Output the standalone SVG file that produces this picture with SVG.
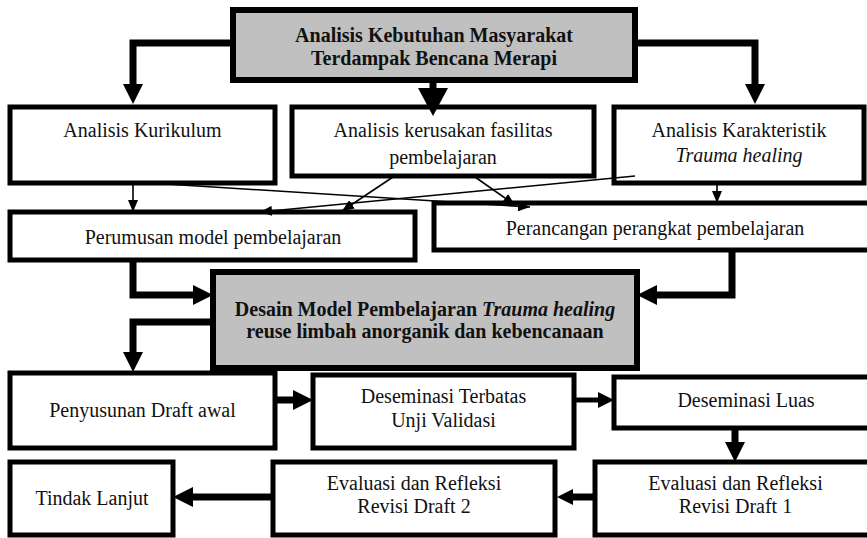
<svg xmlns="http://www.w3.org/2000/svg" width="867" height="538" viewBox="0 0 867 538">
<style>
.box{fill:#fff;stroke:#000;stroke-width:5}
.gray{fill:#c0c0c0;stroke:#000;stroke-width:6}
.t{font-family:"Liberation Serif","Times New Roman",serif;font-size:20px;fill:#111;text-anchor:middle}
.b{font-weight:bold}
.i{font-style:italic}
.thick{fill:none;stroke:#000;stroke-width:7}
.med{fill:none;stroke:#000;stroke-width:5}
.thin{fill:none;stroke:#000;stroke-width:1.6}
</style>
<defs>
<marker id="ah" markerUnits="userSpaceOnUse" viewBox="0 0 20 20" markerWidth="20" markerHeight="20" refX="0" refY="10" orient="auto"><path d="M0,0 L20,10 L0,20 z"/></marker>
<marker id="ahm" markerUnits="userSpaceOnUse" viewBox="0 0 16 16" markerWidth="16" markerHeight="16" refX="0" refY="8" orient="auto"><path d="M0,0 L16,8 L0,16 z"/></marker>
<marker id="ahb" markerUnits="userSpaceOnUse" viewBox="0 0 28 30" markerWidth="28" markerHeight="30" refX="0" refY="15" orient="auto"><path d="M0,0 L28,15 L0,30 z"/></marker>
<marker id="ahs" markerUnits="userSpaceOnUse" viewBox="0 0 12 10" markerWidth="12" markerHeight="10" refX="12" refY="5" orient="auto"><path d="M0,0 L12,5 L0,10 z"/></marker>
</defs>
<rect width="867" height="538" fill="#fff"/>

<g id="n-top">
<rect class="gray" x="233" y="10" width="402" height="70"/>
<text class="t b" x="434" y="42">Analisis Kebutuhan Masyarakat</text>
<text class="t b" x="434" y="65">Terdampak Bencana Merapi</text>
</g>
<g id="n-kurikulum">
<rect class="box" x="10" y="107" width="265" height="76"/>
<text class="t" x="142.5" y="137">Analisis Kurikulum</text>
</g>
<g id="n-kerusakan">
<rect class="box" x="292" y="107" width="302" height="69"/>
<text class="t" x="443" y="137">Analisis kerusakan fasilitas</text>
<text class="t" x="443" y="164">pembelajaran</text>
</g>
<g id="n-karakteristik">
<rect class="box" x="614" y="107" width="250" height="76"/>
<text class="t" x="739" y="137">Analisis Karakteristik</text>
<text class="t i" x="739" y="162">Trauma healing</text>
</g>
<g id="n-perumusan">
<rect class="box" x="10" y="212" width="405" height="48"/>
<text class="t" x="213" y="244">Perumusan model pembelajaran</text>
</g>
<g id="n-perancangan">
<rect class="box" x="434" y="203" width="440" height="47"/>
<text class="t" x="655" y="235">Perancangan perangkat pembelajaran</text>
</g>
<g id="n-desain">
<rect class="gray" x="213" y="272" width="424" height="96"/>
<text class="t b" x="425" y="316">Desain Model Pembelajaran <tspan class="i">Trauma healing</tspan></text>
<text class="t b" x="425" y="338">reuse limbah anorganik dan kebencanaan</text>
</g>
<g id="n-penyusunan">
<rect class="box" x="10" y="373" width="265" height="75"/>
<text class="t" x="142.5" y="417">Penyusunan Draft awal</text>
</g>
<g id="n-terbatas">
<rect class="box" x="313" y="375" width="261" height="73"/>
<text class="t" x="443.5" y="403">Deseminasi Terbatas</text>
<text class="t" x="443.5" y="427">Unji Validasi</text>
</g>
<g id="n-luas">
<rect class="box" x="614" y="377" width="260" height="51"/>
<text class="t" x="746" y="407">Deseminasi Luas</text>
</g>
<g id="n-tindak">
<rect class="box" x="10" y="462" width="163" height="73"/>
<text class="t" x="92" y="505">Tindak Lanjut</text>
</g>
<g id="n-eval2">
<rect class="box" x="273" y="462" width="282" height="73"/>
<text class="t" x="414" y="490">Evaluasi dan Refleksi</text>
<text class="t" x="414" y="513">Revisi Draft 2</text>
</g>
<g id="n-eval1">
<rect class="box" x="595" y="462" width="279" height="73"/>
<text class="t" x="735.5" y="490">Evaluasi dan Refleksi</text>
<text class="t" x="735.5" y="513">Revisi Draft 1</text>
</g>

<g id="connectors">
<path class="thick" d="M233,43 H133 V84" marker-end="url(#ah)"/>
<path class="thick" d="M635,43 H755 V84" marker-end="url(#ah)"/>
<path class="thick" d="M433,80 V88" marker-end="url(#ahb)"/>
<path class="thick" d="M133,260 V295 H193" marker-end="url(#ah)"/>
<path class="thick" d="M732,250 V295 H657" marker-end="url(#ah)"/>
<path class="thick" d="M213,322 H133 V352" marker-end="url(#ah)"/>
<path class="thick" d="M275,400 H293" marker-end="url(#ah)"/>
<path class="med" d="M574,400 H598" marker-end="url(#ahm)"/>
<path class="thick" d="M735,428 V442" marker-end="url(#ah)"/>
<path class="thick" d="M273,497 H193" marker-end="url(#ah)"/>
<path class="thick" d="M595,497 H573" marker-end="url(#ahm)"/>
<path class="thin" d="M133,183 V212" marker-end="url(#ahs)"/>
<path class="thin" d="M717,183 V203" marker-end="url(#ahs)"/>
<path class="thin" d="M150,183 L530,207" marker-end="url(#ahs)"/>
<path class="thin" d="M635,176 L260,212" marker-end="url(#ahs)"/>
<path class="thin" d="M393,177 L342,211" marker-end="url(#ahs)"/>
<path class="thin" d="M475,177 L515,205" marker-end="url(#ahs)"/>
</g>
</svg>
